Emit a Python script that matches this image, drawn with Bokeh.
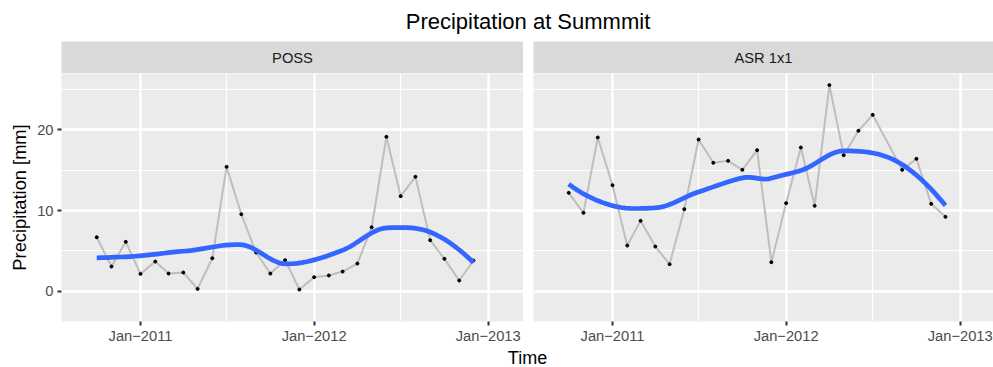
import numpy as np
import pandas as pd
from bokeh.plotting import figure
from bokeh.layouts import column, row
from bokeh.models import FixedTicker, ColumnDataSource, Range1d
from bokeh.core.properties import value
from bokeh.embed import file_html
from bokeh.resources import INLINE

FONT = "Liberation Sans"

# ---------------- data ----------------
month_starts = pd.date_range("2010-10-01", "2012-12-01", freq="MS")
poss_mm = [6.69, 3.06, 6.12, 2.15, 3.68, 2.19, 2.32, 0.29, 4.09, 15.41, 9.54, 4.80,
           2.19, 3.85, 0.21, 1.74, 1.95, 2.44, 3.43, 7.93, 19.13, 11.78, 14.18, 6.32,
           4.01, 1.33, 3.80]
asr_mm = [12.19, 9.71, 19.05, 13.14, 5.66, 8.72, 5.54, 3.35, 10.17, 18.80, 15.91, 16.16,
          15.04, 17.48, 3.60, 10.91, 17.81, 10.58, 25.54, 16.86, 19.88, 21.86, None, 15.04,
          16.41, 10.83, 9.22]
panel_labels = ["POSS", "ASR 1x1"]
chart_title = "Precipitation at Summmit"
x_title = "Time"
y_title = "Precipitation [mm]"
xtick_dates = ["2011-01-01", "2012-01-01", "2013-01-01"]
xtick_labels = ["Jan\u22122011", "Jan\u22122012", "Jan\u22122013"]
xminor_dates = ["2010-07-01", "2011-07-01", "2012-07-01", "2013-07-01"]
yticks = [0, 10, 20]
yminor = [-5, 5, 15, 25]


def ms(d):
    return pd.Timestamp(d).value / 1e6


# ---------------- loess (degree 2, span 0.75, kd-tree interpolation like R) ----------------
def local_fit(x, y, x0, q):
    d = np.abs(x - x0)
    h = np.sort(d)[q - 1]
    w = np.clip(1 - (d / h) ** 3, 0, None) ** 3
    X = np.column_stack([np.ones(len(x)), x - x0, (x - x0) ** 2])
    sw = np.sqrt(w)
    beta = np.linalg.lstsq(X * sw[:, None], y * sw, rcond=None)[0]
    return beta[0], beta[1]


def loess(x, y, xs, span=0.75, cell=0.2):
    x = np.asarray(x, float)
    y = np.asarray(y, float)
    n = len(x)
    q = int(np.floor(n * span + 1e-5))
    fc = int(np.floor(n * span * cell))
    srt = np.sort(x)
    mu = 0.005 * (srt[-1] - srt[0])
    verts = {srt[0] - mu, srt[-1] + mu}

    def split(l, u, vlo, vhi):
        if u - l + 1 <= fc:
            return
        m = (l + u) // 2
        t = srt[m - 1]
        if t == vlo or t == vhi:
            return
        verts.add(t)
        split(l, m, vlo, t)
        split(m + 1, u, t, vhi)

    split(1, n, srt[0] - mu, srt[-1] + mu)
    vv = np.array(sorted(verts))
    fits = [local_fit(x, y, v, q) for v in vv]
    f = np.array([a for a, _ in fits])
    s = np.array([b for _, b in fits])
    out = []
    for x0 in xs:
        i = int(np.clip(np.searchsorted(vv, x0) - 1, 0, len(vv) - 2))
        h = vv[i + 1] - vv[i]
        t = (x0 - vv[i]) / h
        h00 = 2 * t**3 - 3 * t**2 + 1
        h10 = t**3 - 2 * t**2 + t
        h01 = -2 * t**3 + 3 * t**2
        h11 = t**3 - t**2
        out.append(h00 * f[i] + h10 * h * s[i] + h01 * f[i + 1] + h11 * h * s[i + 1])
    return np.array(out)


# ---------------- layout constants ----------------
X_START = ms("2010-07-18 21:36")
X_END = ms("2013-03-16 05:00")
LEFT_FRAME_W = 462
RIGHT_FRAME_W = 460
LEFT_BORDER = 61
GAP = 10
FRAME_H = 248
BOTTOM_BORDER = 26
Y_RANGE = (-3.75, 26.98)
PANEL_BG = "#EBEBEB"
STRIP_BG = "#D9D9D9"
TOTAL_W = 993

xt_ms = [ms(d) for d in xtick_dates]
xminor_ms = [ms(d) for d in xminor_dates]


def make_panel(vals, show_y, frame_w, left_border):
    dates = [d for d, v in zip(month_starts, vals) if v is not None]
    yv = [v for v in vals if v is not None]
    xms = np.array([ms(d) for d in dates])
    x_end = X_START + (X_END - X_START) * frame_w / LEFT_FRAME_W
    p = figure(width=frame_w + left_border, height=FRAME_H + BOTTOM_BORDER,
               x_axis_type="datetime",
               x_range=Range1d(X_START, x_end), y_range=Range1d(*Y_RANGE),
               toolbar_location=None, output_backend="svg", title=None,
               min_border_left=left_border, min_border_right=0, min_border_top=0,
               min_border_bottom=BOTTOM_BORDER,
               y_axis_location="left" if show_y else None)
    p.background_fill_color = PANEL_BG
    p.border_fill_color = "white"
    p.outline_line_color = None

    xticker = FixedTicker(ticks=xt_ms, minor_ticks=xminor_ms)
    yticker = FixedTicker(ticks=yticks, minor_ticks=yminor)
    p.xaxis.ticker = xticker
    p.xgrid.ticker = xticker
    p.ygrid.ticker = yticker
    p.xaxis.major_label_overrides = {t: lab for t, lab in zip(xt_ms, xtick_labels)}
    axes = list(p.xaxis)
    if show_y:
        p.yaxis.ticker = yticker
        p.yaxis.axis_label = y_title
        p.yaxis.axis_label_text_font = FONT
        p.yaxis.axis_label_text_font_size = "18.3px"
        p.yaxis.axis_label_text_font_style = "normal"
        p.yaxis.axis_label_text_color = "black"
        p.yaxis.axis_label_standoff = 4
        axes += list(p.yaxis)
    for ax in axes:
        ax.axis_line_color = None
        ax.major_tick_line_color = "#333333"
        ax.major_tick_line_width = 2
        ax.major_tick_out = 4
        ax.major_tick_in = 0
        ax.minor_tick_line_color = None
        ax.major_label_text_font = FONT
        ax.major_label_text_font_size = "14.7px"
        ax.major_label_text_color = "#4D4D4D"
        ax.major_label_standoff = 4
    p.xaxis.major_label_standoff = 2
    for g in p.grid:
        g.grid_line_color = "white"
        g.grid_line_width = 2.4
        g.minor_grid_line_color = "white"
        g.minor_grid_line_width = 1.2

    src = ColumnDataSource(dict(x=xms, y=yv))
    p.line("x", "y", source=src, line_color="#BEBEBE", line_width=2)
    p.scatter("x", "y", source=src, size=3, color="black")
    xs = np.linspace(xms.min(), xms.max(), 80)
    days = (xms - xms.min()) / 8.64e7
    xs_days = (xs - xms.min()) / 8.64e7
    ys = loess(days, yv, xs_days)
    p.line(xs, ys, line_color="#3366FF", line_width=4.7, line_join="round")
    return p


def make_strip(label, frame_w, left_border):
    s = figure(width=frame_w + left_border, height=32, x_range=(0, 1), y_range=(0, 1),
               toolbar_location=None, output_backend="svg", title=None,
               x_axis_location=None, y_axis_location=None,
               min_border_left=left_border, min_border_right=0, min_border_top=0,
               min_border_bottom=0)
    s.background_fill_color = STRIP_BG
    s.border_fill_color = "white"
    s.outline_line_color = None
    for g in s.grid:
        g.visible = False
    s.text(x=[0.5], y=[0.47], text=[label], text_align="center", text_baseline="middle",
           text_font=value(FONT), text_font_size="14.7px", text_color="#1A1A1A")
    return s


def make_text_fig(txt, h, cx, cy, size):
    f = figure(width=TOTAL_W, height=h, x_range=(0, TOTAL_W), y_range=(0, h),
               toolbar_location=None, output_backend="svg", title=None,
               x_axis_location=None, y_axis_location=None,
               min_border=0, min_border_left=0, min_border_right=0,
               min_border_top=0, min_border_bottom=0)
    f.background_fill_color = "white"
    f.border_fill_color = "white"
    f.outline_line_color = None
    for g in f.grid:
        g.visible = False
    f.text(x=[cx], y=[cy], text=[txt], text_align="center", text_baseline="middle",
           text_font=value(FONT), text_font_size=size, text_color="black")
    return f


TIME_H = 367 - 41 - 32 - FRAME_H - BOTTOM_BORDER
title_fig = make_text_fig(chart_title, 41, 527.5, 20.4, "22px")
time_fig = make_text_fig(x_title, TIME_H, 527, TIME_H / 2, "18px")

strips = row(make_strip(panel_labels[0], LEFT_FRAME_W, LEFT_BORDER),
             make_strip(panel_labels[1], RIGHT_FRAME_W, GAP))
panels = row(make_panel(poss_mm, True, LEFT_FRAME_W, LEFT_BORDER),
             make_panel(asr_mm, False, RIGHT_FRAME_W, GAP))

layout = column(title_fig, strips, panels, time_fig)

with open("out.html", "w") as fh:
    fh.write(file_html(layout, INLINE))
